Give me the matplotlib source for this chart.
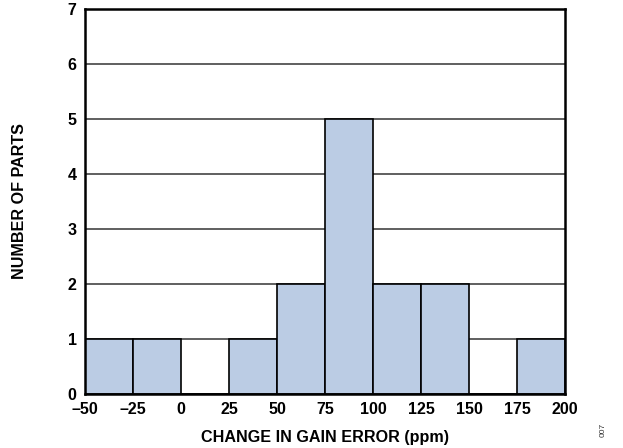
import numpy as np
import matplotlib
matplotlib.use("Agg")
import matplotlib.pyplot as plt

plt.rcParams["font.family"] = ["Liberation Sans", "DejaVu Sans"]
plt.rcParams["font.weight"] = "bold"

# histogram bin edges (ppm) and counts per bin
bin_edges = [-50, -25, 0, 25, 50, 75, 100, 125, 150, 175, 200]
counts = [1, 1, 0, 1, 2, 5, 2, 2, 0, 1]
x_ticks = [-50, -25, 0, 25, 50, 75, 100, 125, 150, 175, 200]
x_labels = ["–50", "–25", "0", "25", "50", "75", "100", "125", "150", "175", "200"]
y_ticks = [0, 1, 2, 3, 4, 5, 6, 7]

fig = plt.figure(figsize=(6.23, 4.48), dpi=100)
ax = fig.add_axes([0.1364, 0.1205, 0.7705, 0.8595])

ax.set_axisbelow(True)
ax.yaxis.grid(True, color="#444444", linewidth=1.2)

lefts = np.array(bin_edges[:-1])
widths = np.diff(bin_edges)
ax.bar(lefts, counts, width=widths, align="edge", color="#BBCCE4",
       edgecolor="black", linewidth=1.2)

ax.set_xlim(-50, 200)
ax.set_ylim(0, 7)
ax.set_xticks(x_ticks)
ax.set_xticklabels(x_labels)
ax.set_yticks(y_ticks)
ax.tick_params(length=0, labelsize=11.5, pad=6)
for lbl in ax.get_xticklabels() + ax.get_yticklabels():
    lbl.set_fontweight("bold")

for sp in ax.spines.values():
    sp.set_linewidth(1.8)
    sp.set_color("black")

ax.set_xlabel("CHANGE IN GAIN ERROR (ppm)", fontsize=11.6, fontweight="bold", labelpad=9)
ax.set_ylabel("NUMBER OF PARTS", fontsize=11.6, fontweight="bold", labelpad=29)

fig.text(0.968, 0.04, "007", rotation=90, fontsize=6, fontweight="normal",
         color="#333333", ha="center", va="center")

fig.savefig("out.png", dpi=100)
